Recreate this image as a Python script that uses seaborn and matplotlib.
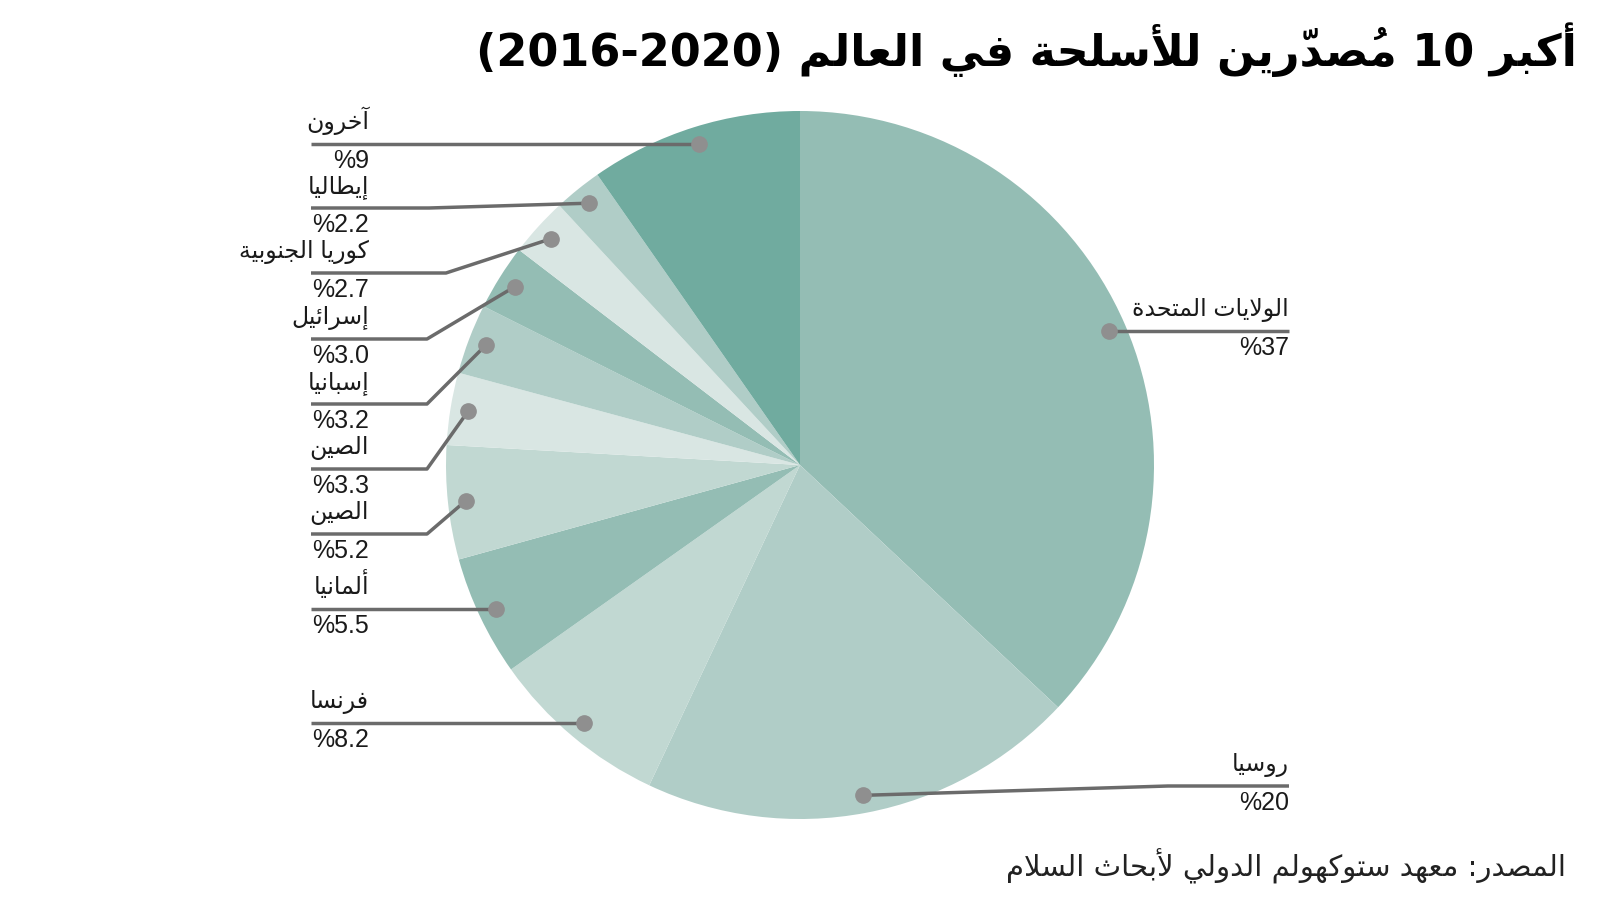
import matplotlib
matplotlib.use('Agg')
import matplotlib.pyplot as plt
import seaborn as sns
import numpy as np

# data, clockwise from the top
countries = ['الولايات المتحدة', 'روسيا', 'فرنسا', 'ألمانيا', 'الصين', 'الصين',
             'إسبانيا', 'إسرائيل', 'كوريا الجنوبية', 'إيطاليا', 'آخرون']
pct_text = ['37', '20', '8.2', '5.5', '5.2', '3.3', '3.2', '3.0', '2.7', '2.2', '9']
# wedge sizes as drawn (the "others" wedge is drawn at 9.7)
shares = [37, 20, 8.2, 5.5, 5.2, 3.3, 3.2, 3.0, 2.7, 2.2, 9.7]
colors = ['#94bdb4', '#b0cdc7', '#c1d8d2', '#94bdb4', '#c1d8d2', '#d9e6e3',
          '#b0cdc7', '#94bdb4', '#d9e6e3', '#b0cdc7', '#70ab9f']

title = 'أكبر 10 مُصدّرين للأسلحة في العالم (2016-2020)'
source = 'المصدر: معهد ستوكهولم الدولي لأبحاث السلام'

# label layout in pixels from the top: side, line y (None = level with dot), elbow x
layout = [('r', None, None), ('r', 786, 1168), ('l', None, None), ('l', None, None),
          ('l', 534, 427), ('l', 469, 427), ('l', 404, 427), ('l', 339, 427),
          ('l', 273, 446), ('l', 208, 429), ('l', None, None)]


# small arabic shaper: presentation forms + right to left order
ARABIC = {
    '\u0621': (0xFE80, 0), '\u0622': (0xFE81, 1), '\u0623': (0xFE83, 1), '\u0624': (0xFE85, 1),
    '\u0625': (0xFE87, 1), '\u0626': (0xFE89, 2), '\u0627': (0xFE8D, 1), '\u0628': (0xFE8F, 2),
    '\u0629': (0xFE93, 1), '\u062A': (0xFE95, 2), '\u062B': (0xFE99, 2), '\u062C': (0xFE9D, 2),
    '\u062D': (0xFEA1, 2), '\u062E': (0xFEA5, 2), '\u062F': (0xFEA9, 1), '\u0630': (0xFEAB, 1),
    '\u0631': (0xFEAD, 1), '\u0632': (0xFEAF, 1), '\u0633': (0xFEB1, 2), '\u0634': (0xFEB5, 2),
    '\u0635': (0xFEB9, 2), '\u0636': (0xFEBD, 2), '\u0637': (0xFEC1, 2), '\u0638': (0xFEC5, 2),
    '\u0639': (0xFEC9, 2), '\u063A': (0xFECD, 2), '\u0641': (0xFED1, 2), '\u0642': (0xFED5, 2),
    '\u0643': (0xFED9, 2), '\u0644': (0xFEDD, 2), '\u0645': (0xFEE1, 2), '\u0646': (0xFEE5, 2),
    '\u0647': (0xFEE9, 2), '\u0648': (0xFEED, 1), '\u0649': (0xFEEF, 1), '\u064A': (0xFEF1, 2),
}
LAM_ALEF = {'\u0622': 0xFEF5, '\u0623': 0xFEF7, '\u0625': 0xFEF9, '\u0627': 0xFEFB}


def jtype(b):
    if b.startswith('LA'):
        return 1
    return ARABIC[b][1] if b in ARABIC else 0


def shape_word(word):
    clusters = []
    for ch in word:
        if 0x064B <= ord(ch) <= 0x065F or ch == '\u0670':
            if clusters:
                clusters[-1][1] += ch
            continue
        clusters.append([ch, ''])
    merged = []
    for c in clusters:
        if merged and merged[-1][0] == '\u0644' and c[0] in LAM_ALEF:
            merged[-1] = ['LA' + c[0], merged[-1][1] + c[1]]
        else:
            merged.append(c)
    out = []
    n = len(merged)
    for i, (b, m) in enumerate(merged):
        t = jtype(b)
        pj = i > 0 and jtype(merged[i - 1][0]) == 2 and t > 0
        nj = i < n - 1 and t == 2 and jtype(merged[i + 1][0]) > 0
        if b.startswith('LA'):
            g = chr(LAM_ALEF[b[2]] + (1 if pj else 0))
        elif t > 0:
            base = ARABIC[b][0]
            if pj and nj:
                g = chr(base + 3)
            elif pj:
                g = chr(base + 1)
            elif nj:
                g = chr(base + 2)
            else:
                g = chr(base)
        else:
            g = b
        # marks go in front of the base so they sit over it
        out.append(m + g)
    return ''.join(reversed(out))


def rtl(text):
    res = []
    for w in text.split(' '):
        if any('\u0600' <= ch <= '\u06FF' for ch in w):
            res.append(shape_word(w))
        else:
            res.append(w)
    return ' '.join(reversed(res))


sns.set_theme(style='white')
plt.rcParams['font.family'] = ['Liberation Sans', 'DejaVu Sans']

fig = plt.figure(figsize=(16, 9), dpi=100)
ax = fig.add_axes([0, 0, 1, 1])

cx, cy, R = 800, 900 - 465, 354
wedges, _ = ax.pie(shares, colors=colors, startangle=90, counterclock=False,
                   center=(cx, cy), radius=R, wedgeprops=dict(linewidth=0))
ax.set_xlim(0, 1600)
ax.set_ylim(0, 900)
ax.set_aspect('equal')
ax.axis('off')

line_c = '#6b6b6b'
for w, name, pct, (side, ly, ex) in zip(wedges, countries, pct_text, layout):
    ang = np.deg2rad((w.theta1 + w.theta2) / 2)
    dx, dy = cx + 0.95 * R * np.cos(ang), cy + 0.95 * R * np.sin(ang)
    y = dy if ly is None else 900 - ly
    if side == 'l':
        xs = [311] + ([ex] if ex else []) + [dx]
        ys = [y] + ([y] if ex else []) + [dy]
        tx = 369
    else:
        xs = [dx] + ([ex] if ex else []) + [1289]
        ys = [dy] + ([y] if ex else []) + [y]
        tx = 1289
    ax.plot(xs, ys, color=line_c, lw=2.5, solid_capstyle='butt', zorder=3)
    ax.plot(dx, dy, 'o', color='#8f8f8f', ms=11, zorder=4)
    ax.text(tx, y + 15, rtl(name), ha='right', va='baseline', fontsize=17, color='#1a1a1a')
    ax.text(tx, y - 5, '%' + pct, ha='right', va='top', fontsize=18, color='#1a1a1a')

fig.text(1577 / 1600, 1 - 22 / 900, rtl(title), ha='right', va='top', fontsize=32,
         fontweight='bold', family=['DejaVu Sans'], color='black')
fig.text(1566 / 1600, 1 - 876 / 900, rtl(source), ha='right', va='baseline', fontsize=21,
         family=['DejaVu Sans'], color='#222222')

fig.savefig('out.png', dpi=100, facecolor='white')
